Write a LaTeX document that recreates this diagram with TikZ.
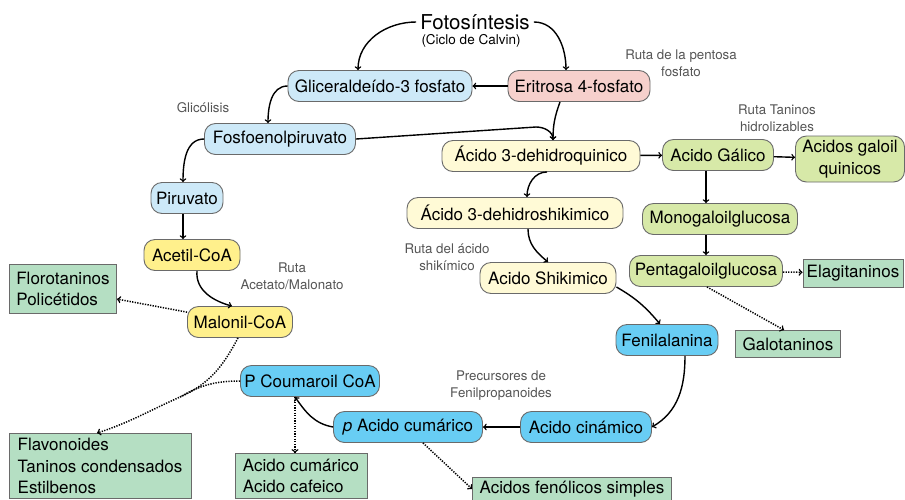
\documentclass[tikz,border=0pt]{standalone}
\usepackage{fontspec}
\setmainfont{TeX Gyre Heros}
\usetikzlibrary{arrows,shapes}
\usetikzlibrary{positioning}
\usetikzlibrary{calc}
\definecolor{paleblue}{HTML}{CDE9F8}
\definecolor{skyblue}{HTML}{68CDF4}
\definecolor{palepink}{HTML}{F6D0CC}
\definecolor{paleyellow}{HTML}{FFFAD6}
\definecolor{lemon}{HTML}{FFF08C}
\definecolor{galoilgreen}{HTML}{D7E9A8}
\definecolor{boxgreen}{HTML}{B5DFC3}
\definecolor{bordergray}{HTML}{6A6A6A}
\definecolor{labelgray}{HTML}{555555}
\tikzstyle{compound}=[rectangle,rounded corners=11pt,draw=bordergray,line width=0.9pt,minimum height=31pt,inner sep=0pt,font=\fontsize{17}{22}\selectfont]
\tikzstyle{product}=[rectangle,draw=bordergray,line width=0.9pt,fill=boxgreen,inner sep=0pt,align=left,font=\fontsize{17}{21.5}\selectfont]
\tikzstyle{route}=[text=labelgray,align=center,font=\fontsize{13.3}{17}\selectfont]
\tikzstyle{edge} = [draw,line width=1.4pt,->]
\tikzstyle{dottededge} = [draw,dash pattern=on 1.3pt off 1.3pt,line width=1.5pt,->]

\begin{document}
\begin{tikzpicture}[x=1pt,y=-1pt,>=to]
   \path[fill=white] (0,0) rectangle (905,499);
   \useasboundingbox (0,0) rectangle (905,499);

   \node[inner sep=4pt,font=\fontsize{20.5}{24}\selectfont] (foto) at (475,22) {Fotosíntesis};
   \node[inner sep=0pt,font=\fontsize{13.5}{16}\selectfont] (calvin) at (471,41) {(Ciclo de Calvin)};

   % glucolisis and acetate side
   \foreach \pos/\name/\boxw/\label in {{(380,86)/glic/184/Gliceraldeído-3 fosfato}, {(280,139)/fosfo/151/Fosfoenolpiruvato}, {(187,198)/piruvato/72/Piruvato}}
        \node[compound,fill=paleblue,minimum width=\boxw pt] (\name) at \pos {\label};
   \node[compound,fill=palepink,minimum width=142pt] (eritrosa) at (579,86) {Eritrosa 4-fosfato};
   \foreach \pos/\name/\boxw/\label in {{(192,255)/acetil/96/Acetil-CoA}, {(240,322)/malonil/105/Malonil-CoA}}
        \node[compound,fill=lemon,minimum width=\boxw pt] (\name) at \pos {\label};

   % shikimate
   \foreach \pos/\name/\boxw/\label in {{(541,156)/quinico/198/Ácido 3-dehidroquinico}, {(515,213)/dehidroshik/216/Ácido 3-dehidroshikimico}, {(548,278)/shikimico/136/Acido Shikimico}}
        \node[compound,fill=paleyellow,minimum width=\boxw pt] (\name) at \pos {\label};

   % hydrolysable tannins
   \foreach \pos/\name/\boxw/\label in {{(718,155)/galico/111/Acido Gálico}, {(720,219)/monogal/155/Monogaloilglucosa}, {(706,271)/pentagal/153/Pentagaloilglucosa}}
        \node[compound,fill=galoilgreen,minimum width=\boxw pt] (\name) at \pos {\label};
   \node[compound,fill=galoilgreen,minimum width=109pt,minimum height=46pt,align=center] (galoil) at (850,159) {Acidos galoil\\quinicos};

   % phenylpropanoids
   \foreach \pos/\name/\boxw/\label in {{(667,340)/fenil/102/Fenilalanina}, {(586,427)/cinamico/131/Acido cinámico}, {(408,427)/cumarico/149/\textit{p} Acido cumárico}, {(310,381)/coumaroil/139/P Coumaroil CoA}}
        \node[compound,fill=skyblue,minimum width=\boxw pt] (\name) at \pos {\label};

   % end products
   \node[product,minimum width=100pt,minimum height=28pt] (elagi) at (853,273) {Elagitaninos};
   \node[product,minimum width=105pt,minimum height=27pt] (galota) at (788,344) {Galotaninos};
   \node[product,minimum width=107pt,minimum height=49pt] (floro) at (63,289) {Florotaninos\\Policétidos};
   \node[product,minimum width=182pt,minimum height=65pt] (flavo) at (100,466) {Flavonoides\\Taninos condensados\\Estilbenos};
   \node[product,minimum width=132pt,minimum height=45pt] (cumcaf) at (301,476) {Acido cumárico\\Acido cafeico};
   \node[product,minimum width=199pt,minimum height=23pt] (fenolicos) at (572,489) {Acidos fenólicos simples};

   % route labels
   \node[route] (pentosa) at (681,63) {Ruta de la pentosa\\fosfato};
   \node[route] (glicolisis) at (203,108) {Glicólisis};
   \node[route] (taninos) at (777,118) {Ruta Taninos\\hidrolizables};
   \node[route] (rutashik) at (447,257) {Ruta del ácido\\shikímico};
   \node[route] (acetato) at (292,276) {Ruta\\Acetato/Malonato};
   \node[route] (precursores) at (501,386) {Precursores de\\Fenilpropanoides};

   \coordinate (fepbend) at (536,127);
   \coordinate (flavmeet) at (180,397);

   % main pathway
   \draw[edge] (foto.west) to[out=180,in=90] ([xshift=-22pt]glic.north);
   \draw[edge] (foto.east) to[out=0,in=90] ([xshift=-13pt]eritrosa.north);
   \draw[edge] (glic.west) to[out=180,in=90] ([xshift=-12pt]fosfo.north);
   \draw[edge] (fosfo.west) to[out=180,in=90] ([xshift=-4pt]piruvato.north);
   \draw[edge] (fosfo.east) -- (fepbend) to[out=0,in=90] ([xshift=12pt]quinico.north);
   \draw[edge] ([xshift=-19pt]eritrosa.south) to[out=-110,in=90] ([xshift=12pt]quinico.north);
   \draw[edge] ([xshift=6pt]quinico.south) to[out=180,in=90] ([xshift=12pt]dehidroshik.north);
   \draw[edge] ([xshift=13pt]dehidroshik.south) to[out=-90,in=140] (shikimico.north);
   \draw[edge] ([yshift=-9pt]shikimico.east) to[out=-30,in=130] ([xshift=-7pt]fenil.north);
   \draw[edge] ([xshift=18pt]fenil.south) to[out=-90,in=30] (cinamico.east);
   \draw[edge] (cumarico.west) to[out=170,in=-55] ([xshift=-15pt]coumaroil.south);
   \draw[edge] ([xshift=5pt]acetil.south) to[out=-95,in=165] ([xshift=-8pt]malonil.north);
   \draw[edge] ([xshift=-4pt]piruvato.south) -- ([xshift=-4pt]piruvato.south |- acetil.north);
   \draw[edge] ([xshift=-12pt]galico.south) -- ([xshift=-12pt]galico.south |- monogal.north);
   \draw[edge] ([xshift=-14pt]monogal.south) -- ([xshift=-14pt]monogal.south |- pentagal.north);

   \foreach \source/\dest in {eritrosa/glic, quinico/galico, galico/galoil, cinamico/cumarico}
          \path[edge] (\source) -- (\dest);

   % side products
   \foreach \source/\dest in {pentagal/elagi, malonil/floro}
          \path[dottededge] (\source) -- (\dest);
   \draw[dottededge] ([xshift=1pt]pentagal.south) -- ([xshift=-4pt]galota.north);
   \draw[dottededge] ([xshift=15pt]cumarico.south) -- (fenolicos.west);
   \draw[dottededge] ([xshift=-15pt]coumaroil.south) -- ([xshift=-15pt]coumaroil.south |- cumcaf.north);
   \draw[dottededge] ([xshift=-2pt]malonil.south) to[out=-118,in=24] (flavmeet) to[out=204,in=18] ([xshift=-3pt]flavo.north);
   \draw[dash pattern=on 1.3pt off 1.3pt,line width=1.5pt] (coumaroil.west) to[out=180,in=30] (flavmeet);
\end{tikzpicture}
\end{document}
